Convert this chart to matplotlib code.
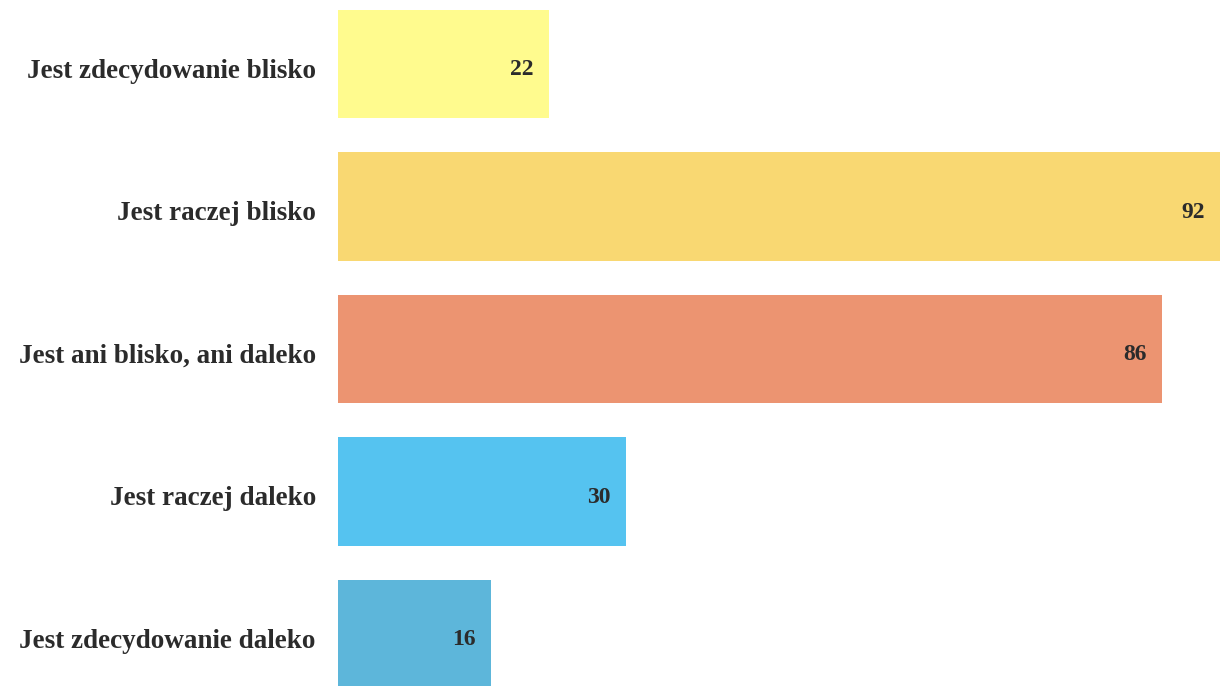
import matplotlib
matplotlib.use("Agg")
from matplotlib import pyplot as plt
from matplotlib import transforms

categories = ["Jest zdecydowanie blisko", "Jest raczej blisko",
              "Jest ani blisko, ani daleko", "Jest raczej daleko",
              "Jest zdecydowanie daleko"]
values = [22, 92, 86, 30, 16]
colors = ["#FFFB8E", "#F9D872", "#EC9471", "#55C3F0", "#5DB6DA"]

plt.rcParams["font.family"] = ["Liberation Serif", "DejaVu Serif"]

fig = plt.figure(figsize=(12.21, 6.86), dpi=100)
ax = fig.add_axes([338 / 1221, 0, 882 / 1221, 1])

pos = list(range(len(values)))
ax.barh(pos, values, height=0.76, color=colors, edgecolor="none")
ax.set_xlim(0, 92)
ax.set_ylim(4.365, -0.449)

# Value labels inside the bar end
for p, v in zip(pos, values):
    ax.annotate(str(v), (v, p), xytext=(-11, -4), textcoords="offset points",
                ha="right", va="center", fontsize=17, fontweight="bold",
                color="#2b2b2b")

ax.set_yticks(pos)
ax.set_yticklabels(categories, fontsize=19.5, fontweight="bold", color="#2b2b2b")
ax.tick_params(axis="y", length=0, pad=16)
# nudge category labels down a bit
shift = transforms.ScaledTranslation(0, -3 / 72, fig.dpi_scale_trans)
for lbl in ax.get_yticklabels():
    lbl.set_transform(lbl.get_transform() + shift)
ax.set_xticks([])
for s in ax.spines.values():
    s.set_visible(False)

fig.savefig("out.png", dpi=100)
